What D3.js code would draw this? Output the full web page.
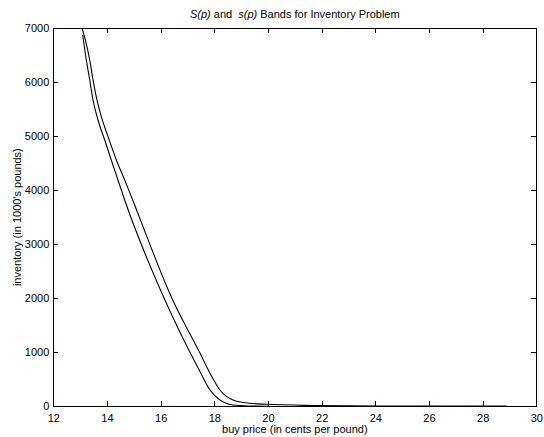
<!DOCTYPE html>
<html><head><meta charset="utf-8">
<script src="https://cdn.jsdelivr.net/npm/d3@7"></script>
<style>
body{margin:0;background:#fff;}
text{font-family:"Liberation Sans",Arial,sans-serif;}
</style></head>
<body><svg id="c" width="544" height="437"></svg>
<script>
const xTicks = [12,14,16,18,20,22,24,26,28,30];
const yTicks = [0,1000,2000,3000,4000,5000,6000,7000];
// S(p) upper band
const priceS = [13.07,13.18,13.357,13.48,13.60,13.79,14.04,14.35,14.66,14.91,16.45,17.47,17.84,18.21,18.70,19.33,19.95,21.7,23,25,27,28.9];
const valueS = [7000,6810,6409,6039,5729,5359,4989,4558,4188,3878,1967,981,611,302,117,56,37,15,8,5,4,3];
// s(p) lower band
const priceLow = [13.096,13.23,13.357,13.48,13.666,13.916,14.16,14.41,14.66,16.16,17.47,17.84,18.21,18.70,19.3,20.0];
const valueLow = [6870,6409,6039,5668,5298,4928,4558,4188,3817,1967,640,302,117,24,5,0];

const svg = d3.select("#c");
const m = {l:53.3, r:536.3, t:28, b:406.3};
const x = d3.scaleLinear().domain([12,30]).range([m.l,m.r]);
const y = d3.scaleLinear().domain([0,7000]).range([m.b,m.t]);

svg.append("defs").append("clipPath").attr("id","clip")
  .append("rect").attr("x",m.l).attr("y",m.t).attr("width",m.r-m.l).attr("height",m.b-m.t);

const line = d3.line().x(d=>x(d[0])).y(d=>y(d[1])).curve(d3.curveMonotoneX);
const g = svg.append("g").attr("clip-path","url(#clip)");
g.append("path").datum(priceS.map((p,i)=>[p,valueS[i]])).attr("d",line)
  .attr("fill","none").attr("stroke","#000").attr("stroke-width",1.1);
g.append("path").datum(priceLow.map((p,i)=>[p,valueLow[i]])).attr("d",line)
  .attr("fill","none").attr("stroke","#000").attr("stroke-width",1.1);

// axes
const fs = "11px";
const axB = svg.append("g").attr("transform",`translate(0,${m.b})`)
  .call(d3.axisBottom(x).tickValues(xTicks).tickSize(-5).tickPadding(8).tickSizeOuter(0));
const axT = svg.append("g").attr("transform",`translate(0,${m.t})`)
  .call(d3.axisTop(x).tickValues(xTicks).tickSize(-5).tickFormat("").tickSizeOuter(0));
const axL = svg.append("g").attr("transform",`translate(${m.l},0)`)
  .call(d3.axisLeft(y).tickValues(yTicks).tickFormat(d3.format("d")).tickSize(-5).tickPadding(4).tickSizeOuter(0));
const axR = svg.append("g").attr("transform",`translate(${m.r},0)`)
  .call(d3.axisRight(y).tickValues(yTicks).tickSize(-5).tickFormat("").tickSizeOuter(0));
[axB,axT,axL,axR].forEach(a=>{
  a.selectAll("path,line").attr("stroke","#000").attr("shape-rendering","crispEdges");
  a.selectAll("text").attr("font-size",fs).attr("fill","#000").attr("font-family","'Liberation Sans',Arial,sans-serif");
});
axB.selectAll("text").attr("dy","0.71em").attr("y",7.5);

// labels
svg.append("text").attr("x",(m.l+m.r)/2).attr("y",433).attr("text-anchor","middle")
  .attr("font-size",fs).text("buy price (in cents per pound)");
svg.append("text").attr("transform",`translate(21,${(m.t+m.b)/2}) rotate(-90)`)
  .attr("text-anchor","middle").attr("font-size",fs).text("inventory (in 1000's pounds)");
const ttl = svg.append("text").attr("x",(m.l+m.r)/2).attr("y",17.5).attr("text-anchor","middle").attr("font-size",fs);
ttl.append("tspan").attr("font-style","italic").text("S(p)");
ttl.append("tspan").text(" and \u00a0");
ttl.append("tspan").attr("font-style","italic").text("s(p)");
ttl.append("tspan").text(" Bands for Inventory Problem");
</script></body></html>
